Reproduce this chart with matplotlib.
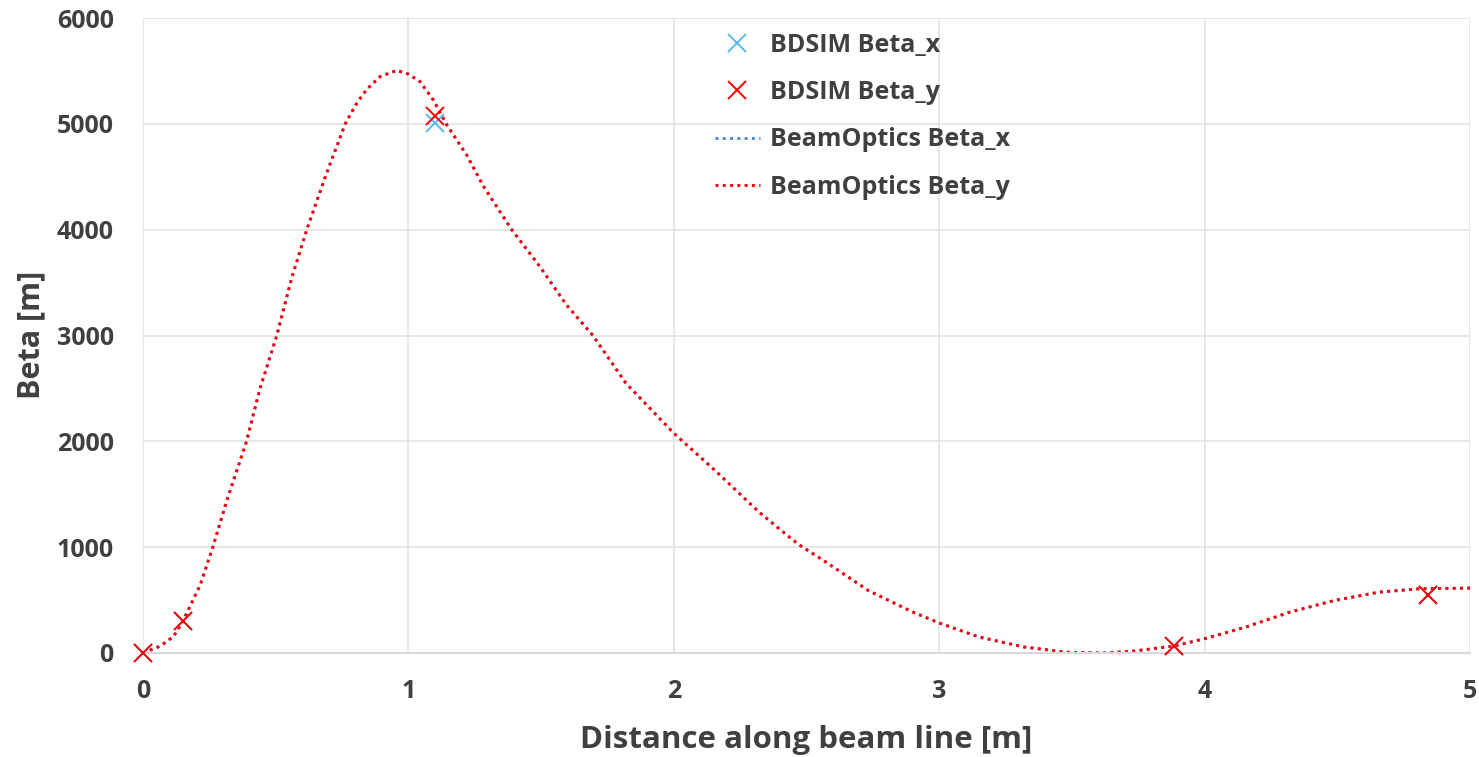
"""Beta function along the beam line: BDSIM vs BeamOptics."""
import matplotlib
matplotlib.use("Agg")
import matplotlib.pyplot as plt

# BDSIM samples
bdsim_s = [0.0, 0.15, 1.10, 3.884, 4.84]
bdsim_beta_x = [0, 300, 5010, 66, 544]
bdsim_beta_y = [0, 300, 5075, 66, 544]

# BeamOptics curve (x and y coincide)
optics_s = [0.0, 0.065, 0.115, 0.15, 0.216, 0.263, 0.316, 0.39, 0.44, 0.504,
            0.56, 0.617, 0.69, 0.762, 0.78, 0.805, 0.843, 0.893, 0.956, 1.0,
            1.044, 1.094, 1.144, 1.22, 1.282, 1.388, 1.495, 1.595, 1.695, 1.82,
            2.0, 2.16, 2.32, 2.405, 2.47, 2.564, 2.732, 2.9, 3.0, 3.15,
            3.318, 3.486, 3.62, 3.737, 3.884, 4.0, 4.155, 4.322, 4.49, 4.657,
            4.81, 5.0]
optics_beta_y = [0, 65, 156, 300, 645, 1000, 1442, 2000, 2493, 3000,
                 3543, 4000, 4522, 5000, 5083, 5194, 5326, 5446, 5505, 5470,
                 5398, 5225, 4993, 4703, 4413, 4004, 3652, 3290, 3000, 2547,
                 2076, 1714, 1333, 1157, 1025, 874, 591, 387, 283, 151,
                 57, 6, 0, 19, 66, 135, 245, 387, 497, 575,
                 607, 613]
optics_beta_x = list(optics_beta_y)

TXT = "#404040"
plt.rcParams["font.family"] = ["Open Sans", "DejaVu Sans"]
plt.rcParams["font.weight"] = "bold"

fig = plt.figure(figsize=(14.79, 7.57), dpi=100)
ax = fig.add_axes([0.0967, 0.1374, 0.8973, 0.8388])

ax.plot(bdsim_s, bdsim_beta_x, ls="none", marker="x", ms=13, mew=1.4,
        color="#5bb8ea", label="BDSIM Beta_x", zorder=3, clip_on=False)
ax.plot(bdsim_s, bdsim_beta_y, ls="none", marker="x", ms=13, mew=1.4,
        color="#ff0000", label="BDSIM Beta_y", zorder=4, clip_on=False)
ax.plot(optics_s, optics_beta_x, ls=(0, (1, 1.5)), lw=2.1, color="#4a86e8",
        label="BeamOptics Beta_x", zorder=2)
ax.plot(optics_s, optics_beta_y, ls=(0, (1, 1.5)), lw=2.1, color="#ff0000",
        label="BeamOptics Beta_y", zorder=2.5)

ax.set_xlim(0, 5)
ax.set_ylim(0, 6000)
ax.set_xticks([0, 1, 2, 3, 4, 5])
ax.set_yticks(range(0, 6001, 1000))
ax.grid(True, color="#e3e3e3", lw=1.2)
ax.set_axisbelow(True)
for sp in ax.spines.values():
    sp.set_visible(False)
ax.spines["bottom"].set_visible(True)
ax.spines["bottom"].set_color("#d9d9d9")
ax.spines["bottom"].set_linewidth(1.5)
ax.tick_params(length=0, labelsize=18, labelcolor=TXT)
ax.tick_params(axis="y", pad=21)
ax.tick_params(axis="x", pad=19)

fig.text(0.021, 0.5575, "Beta [m]", rotation=90, ha="center", va="center",
         fontsize=22, color=TXT, fontweight="bold")
fig.text(0.545, 0.0225, "Distance along beam line [m]", ha="center", va="center",
         fontsize=22.5, color=TXT, fontweight="bold")

leg = ax.legend(loc="upper left", bbox_to_anchor=(692 / 1479, 1 - 10 / 757),
                bbox_transform=fig.transFigure, frameon=False, fontsize=18,
                handlelength=1.8, handletextpad=0.4, labelspacing=0.9)
for t in leg.get_texts():
    t.set_color(TXT)

fig.savefig("out.png", dpi=100)
